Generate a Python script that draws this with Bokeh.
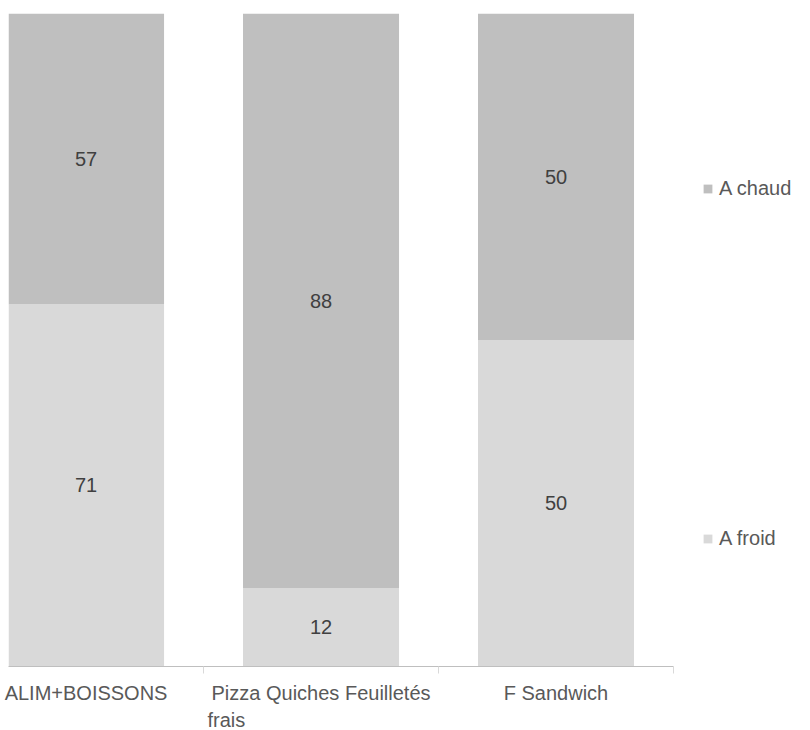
from bokeh.plotting import figure
from bokeh.models import Range1d, FixedTicker, ColumnDataSource, Legend, LegendItem, Title
from bokeh.core.properties import value
from bokeh.embed import file_html
from bokeh.resources import INLINE

categories = ["ALIM+BOISSONS", "Pizza Quiches Feuilletés", "F Sandwich"]
wrapped_tail = "frais"          # second line of the middle category label
a_froid = [71, 12, 50]
a_chaud = [57, 88, 50]
series_names = ["A froid", "A chaud"]
colors = ["#d9d9d9", "#bfbfbf"]

FONT = "Liberation Sans"
xs = [i + 0.5 for i in range(len(categories))]
totals = [f + c for f, c in zip(a_froid, a_chaud)]
froid_frac = [f / t for f, t in zip(a_froid, totals)]
chaud_frac = [c / t for c, t in zip(a_chaud, totals)]

src = ColumnDataSource(dict(
    x=xs, froid=froid_frac, chaud=chaud_frac,
    froid_mid=[f / 2 for f in froid_frac],
    chaud_mid=[f + c / 2 for f, c in zip(froid_frac, chaud_frac)],
    froid_lbl=[str(v) for v in a_froid],
    chaud_lbl=[str(v) for v in a_chaud],
))

p = figure(frame_width=665, height=730, output_backend="svg", toolbar_location=None,
           x_range=Range1d(0.17, 3.0), y_range=Range1d(0, 1),
           min_border_left=8, min_border_top=13, min_border_bottom=0, min_border_right=125)
p.outline_line_color = None
p.grid.visible = False
p.yaxis.visible = False

rs = p.vbar_stack(["froid", "chaud"], x="x", width=0.664, source=src,
                  color=colors, line_color=None)

p.text(x="x", y="froid_mid", text="froid_lbl", source=src, text_align="center",
       text_baseline="middle", text_font=value(FONT), text_font_size="20px", text_color="#404040")
p.text(x="x", y="chaud_mid", text="chaud_lbl", source=src, text_align="center",
       text_baseline="middle", text_font=value(FONT), text_font_size="20px", text_color="#404040")

ax = p.xaxis[0]
ax.ticker = FixedTicker(ticks=xs, minor_ticks=[1, 2, 3])
ax.major_label_overrides = {x: c for x, c in zip(xs, categories)}
ax.major_tick_line_color = None
ax.major_tick_out = 0
ax.major_tick_in = 0
ax.minor_tick_line_color = "#d9d9d9"
ax.minor_tick_out = 7
ax.minor_tick_in = 0
ax.axis_line_color = "#bfbfbf"
ax.major_label_standoff = 8
ax.major_label_text_font = FONT
ax.major_label_text_font_size = "20px"
ax.major_label_text_color = "#595959"

tail = Title(text=wrapped_tail, align="left", offset=199, standoff=0,
             text_font=FONT, text_font_size="20px", text_font_style="normal",
             text_line_height=0.75, text_color="#595959")
p.add_layout(tail, "below")

legend = Legend(items=[LegendItem(label="A chaud", renderers=[rs[1]]),
                       LegendItem(label="A froid", renderers=[rs[0]])],
                location=(29, 116), orientation="vertical",
                glyph_width=11, glyph_height=11, label_standoff=6, spacing=327,
                padding=0, margin=0, border_line_color=None, background_fill_alpha=0,
                label_text_font=FONT, label_text_font_size="20px", label_text_color="#595959")
p.add_layout(legend, "right")

open("out.html", "w").write(file_html(p, INLINE))
